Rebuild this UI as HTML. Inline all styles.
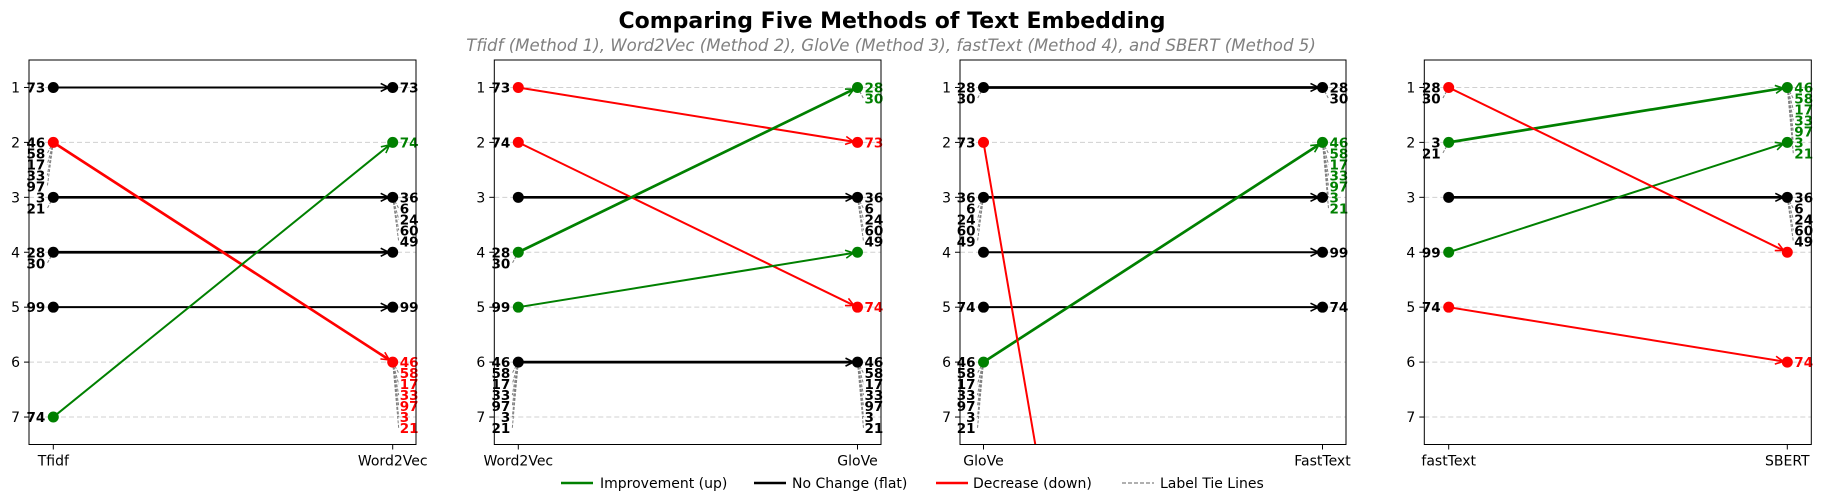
<!DOCTYPE html>
<html><head><meta charset="utf-8"><title>Comparing Five Methods of Text Embedding</title>
<style>
html,body{margin:0;padding:0;background:#fff;overflow:hidden;width:1822px;height:503px;}
svg{display:block;font-family:"DejaVu Sans","Liberation Sans",sans-serif;}
</style></head>
<body>
<svg id="chart" width="1822" height="503" viewBox="0 0 1822 503" xmlns="http://www.w3.org/2000/svg">
  <text x="892" y="28" text-anchor="middle" font-size="22" font-weight="bold" fill="#000">Comparing Five Methods of Text Embedding</text>
  <text x="891" y="51" text-anchor="middle" font-size="16.6" font-style="italic" fill="#808080">Tfidf (Method 1), Word2Vec (Method 2), GloVe (Method 3), fastText (Method 4), and SBERT (Method 5)</text>
  <g id="panels"></g>
  <g font-size="14" fill="#000">
    <g><line x1="561" y1="483" x2="593" y2="483" stroke="green" stroke-width="2.5"/><text x="600" y="488">Improvement (up)</text></g>
    <g><line x1="754" y1="483" x2="786" y2="483" stroke="#000" stroke-width="2.5"/><text x="792" y="488">No Change (flat)</text></g>
    <g><line x1="936" y1="483" x2="968" y2="483" stroke="red" stroke-width="2.5"/><text x="973" y="488">Decrease (down)</text></g>
    <g><line x1="1122" y1="483" x2="1154" y2="483" stroke="#808080" stroke-width="1.2" stroke-dasharray="4,2"/><text x="1160" y="488">Label Tie Lines</text></g>
  </g>
</svg>
<script>
// ---- data ----
const methodPairs = [["Tfidf","Word2Vec"],["Word2Vec","GloVe"],["GloVe","FastText"],["fastText","SBERT"]];
const rankTicks = [1,2,3,4,5,6,7];
// lines: [fromRank, toRank, itemCount]
const p1Lines = [[1,1,1],[3,3,2],[4,4,2],[5,5,1],[2,6,5],[7,2,1]];
const p2Lines = [[3,3,5],[6,6,7],[1,2,1],[2,5,1],[4,1,2],[5,4,1]];
const p3Lines = [[1,1,2],[3,3,5],[4,4,1],[5,5,1],[6,2,7],[2,38,1]];
const p4Lines = [[3,3,5],[2,1,5],[4,2,1],[1,4,1],[5,6,1]];
// label stacks: [rank, labels]
const p1Left = [[1,["73"]],[2,["46","58","17","33","97"]],[3,["3","21"]],[4,["28","30"]],[5,["99"]],[7,["74"]]];
const p1Right = [[1,["73"]],[2,["74"]],[3,["36","6","24","60","49"]],[5,["99"]],[6,["46","58","17","33","97","3","21"]]];
const p2Left = [[1,["73"]],[2,["74"]],[4,["28","30"]],[5,["99"]],[6,["46","58","17","33","97","3","21"]]];
const p2Right = [[1,["28","30"]],[2,["73"]],[3,["36","6","24","60","49"]],[5,["74"]],[6,["46","58","17","33","97","3","21"]]];
const p3Left = [[1,["28","30"]],[2,["73"]],[3,["36","6","24","60","49"]],[5,["74"]],[6,["46","58","17","33","97","3","21"]]];
const p3Right = [[1,["28","30"]],[2,["46","58","17","33","97","3","21"]],[4,["99"]],[5,["74"]]];
const p4Left = [[1,["28","30"]],[2,["3","21"]],[4,["99"]],[5,["74"]]];
const p4Right = [[1,["46","58","17","33","97","3","21"]],[3,["36","6","24","60","49"]],[6,["74"]]];

const panelLines = [p1Lines,p2Lines,p3Lines,p4Lines];
const panelLeft = [p1Left,p2Left,p3Left,p4Left];
const panelRight = [p1Right,p2Right,p3Right,p4Right];
// layout (pixels)
const boxes = [[29,416,53.3,392.7],[494.3,881,518.3,857.5],[960,1346,983.5,1322.5],[1424.3,1811.3,1448.7,1787.3]];
const TOP = 60, BOT = 444.5;
const yScale = r => TOP + (r - 0.5) * (BOT - TOP) / 7;
const NS = "http://www.w3.org/2000/svg";
function mk(tag, attrs, parent){const e=document.createElementNS(NS,tag);for(const k in attrs)e.setAttribute(k,attrs[k]);parent.appendChild(e);return e;}
const colorOf = (a,b) => b < a ? "green" : (b > a ? "red" : "#000");
const root = document.getElementById("panels");

boxes.forEach((b,pi)=>{
  const [L,R,X0,X1] = b;
  const g = mk("g",{},root);
  
  
  rankTicks.forEach(r=>{
    const y = yScale(r);
    const gl = mk("line",{x1:L,x2:R,y1:y,y2:y,stroke:"#d0d0d0","stroke-width":1,"stroke-dasharray":"5,3"},g);
    
    
    mk("line",{x1:L-5,x2:L,y1:y,y2:y,stroke:"#000","stroke-width":1},g);
    const t = mk("text",{x:L-9,y:y+5,"text-anchor":"end","font-size":14,fill:"#000"},g);
    t.textContent = r;
    
    
  });
  [X0,X1].forEach((x,i)=>{
    mk("line",{x1:x,x2:x,y1:BOT,y2:BOT+5,stroke:"#000","stroke-width":1},g);
    const t = mk("text",{x:x,y:BOT+21,"text-anchor":"middle","font-size":14,fill:"#000"},g);
    t.textContent = methodPairs[pi][i];
    
    
  });
  const lg = mk("g",{},g);
  const leftStatus = {}, rightStatus = {};
  panelLines[pi].forEach(([a,c,n])=>{
    const col = colorOf(a,c);
    leftStatus[a] = col; rightStatus[c] = col;
    const y0 = yScale(a), y1 = yScale(c);
    const w = n > 1 ? 2.7 : 2;
    let ex = X1, ey = y1, clipped = false;
    if (y1 > BOT) { const t = (BOT - y0) / (y1 - y0); ex = X0 + (X1 - X0) * t; ey = BOT; clipped = true; }
    if (y1 < TOP) { const t = (TOP - y0) / (y1 - y0); ex = X0 + (X1 - X0) * t; ey = TOP; clipped = true; }
    const ln = mk("line",{x1:X0,y1:y0,x2:ex,y2:ey,stroke:col,"stroke-width":w},lg);
    
    
    if (!clipped) {
      const dx = X1-X0, dy = y1-y0, len = Math.hypot(dx,dy), ux = dx/len, uy = dy/len;
      const tx = X1 - ux*4, ty = y1 - uy*4, s = 8;
      const p = `M${tx-ux*s-uy*s*0.5},${ty-uy*s+ux*s*0.5} L${tx},${ty} L${tx-ux*s+uy*s*0.5},${ty-uy*s-ux*s*0.5}`;
      mk("path",{d:p,fill:"none",stroke:col,"stroke-width":1.6},lg);
    }
  });
  const drawSide = (stacks, X, side, statusMap) => {
    stacks.forEach(([r,labs])=>{
      const y = yScale(r);
      labs.forEach((lab,k)=>{
        const ly = y + k*11;
        if(k>0){
          const tl = mk("line",{x1:X,y1:y,x2:X+(side<0?-6:6),y2:ly,stroke:"#808080","stroke-width":1,"stroke-dasharray":"3,1.5"},g);
          
          
        }
        const col = side<0 ? "#000" : (statusMap[r] || "#000");
        const t = mk("text",{x: side<0 ? X-8 : X+7, y: ly+5, "text-anchor": side<0?"end":"start","font-size":13.5,"font-weight":"bold",fill:col},g);
        t.textContent = lab;
        
        
      });
    });
  };
  drawSide(panelLeft[pi], X0, -1, leftStatus);
  drawSide(panelRight[pi], X1, 1, rightStatus);
  Object.keys(leftStatus).forEach(r=>{
    const c = mk("circle",{cx:X0,cy:yScale(+r),r:5.5,fill:leftStatus[r]},g);
    
    
  });
  Object.keys(rightStatus).forEach(r=>{
    if(+r>7) return;
    const c = mk("circle",{cx:X1,cy:yScale(+r),r:5.5,fill:rightStatus[r]},g);
    
    
  });
  const fr = mk("rect",{x:L,y:TOP,width:R-L,height:BOT-TOP,fill:"none",stroke:"#000","stroke-width":1},g);
  
  
});
</script>
</body></html>
